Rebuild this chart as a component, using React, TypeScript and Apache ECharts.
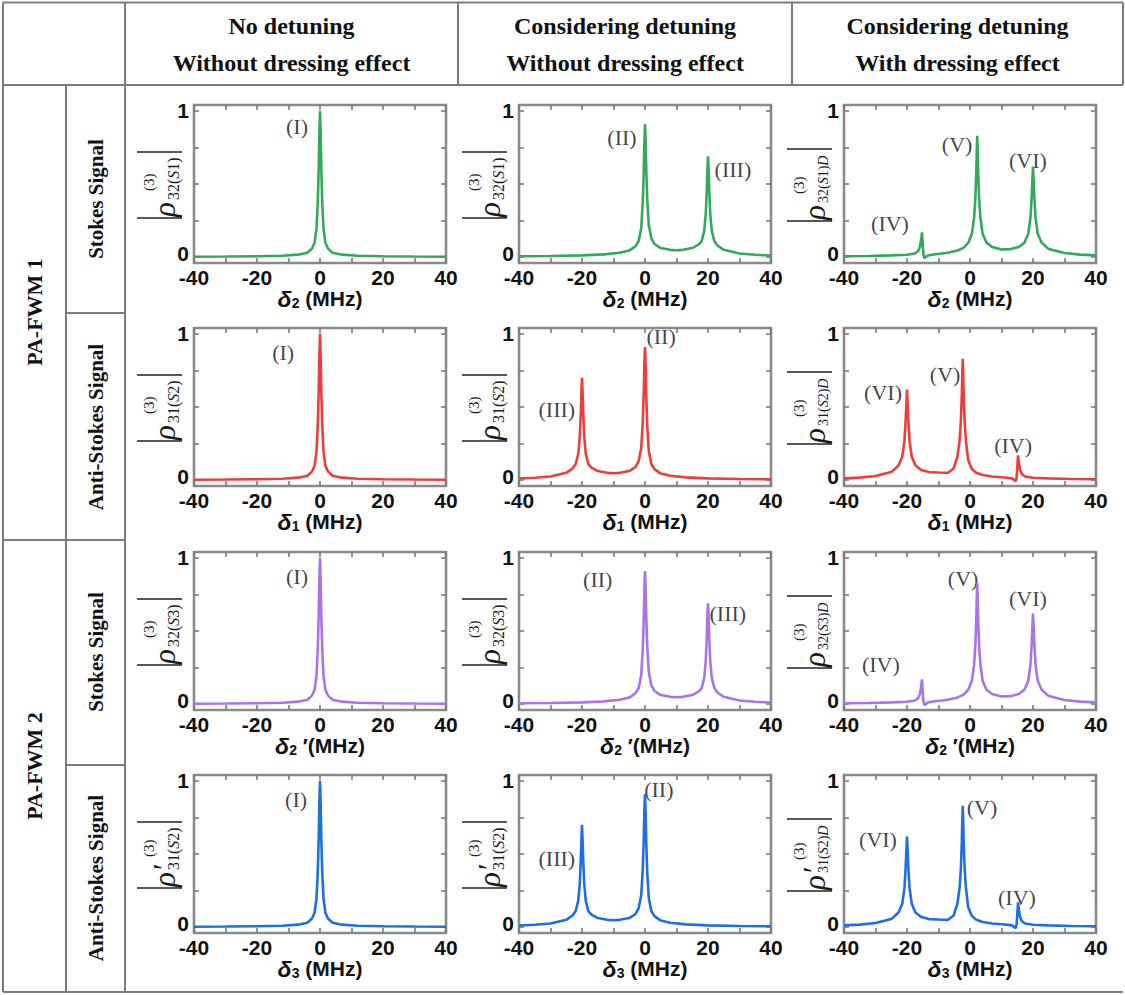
import React, { useEffect, useRef } from "react";
import * as echarts from "echarts";

// ---------- texts ----------
const colHeaders: string[][] = [
  ["No detuning", "Without dressing effect"],
  ["Considering detuning", "Without dressing effect"],
  ["Considering detuning", "With dressing effect"],
];
const groupLabels = ["PA-FWM 1", "PA-FWM 2"];
const signalLabels = ["Stokes Signal", "Anti-Stokes Signal", "Stokes Signal", "Anti-Stokes Signal"];

// x-axis titles per row: [symbol, subscript, suffix]
const xTitles: string[][] = [
  ["δ", "2", " (MHz)"],
  ["δ", "1", " (MHz)"],
  ["δ", "2", " ′(MHz)"],
  ["δ", "3", " (MHz)"],
];
// y-axis label subscripts per row: [indices, field letter, field number], prime flag
const yLabelSubs: string[][] = [
  ["32", "S", "1"],
  ["31", "S", "2"],
  ["32", "S", "3"],
  ["31", "S", "2"],
];
const yLabelPrime = [false, false, false, true];

// ---------- ticks ----------
const xTicks = [-40, -30, -20, -10, 0, 10, 20, 30, 40];
const xTickLabels = [-40, -20, 0, 20, 40];
const yTicks = [0, 0.25, 0.5, 0.75, 1];
const yTickLabels = [0, 1];

// ---------- curves [detuning (MHz), |rho|] ----------
const singlePeak: number[][] = [
  [-40, 0.003], [-30, 0.004], [-20, 0.006], [-12, 0.01], [-7, 0.017], [-4, 0.03], [-2.5, 0.06],
  [-1.7, 0.1], [-1.1, 0.2], [-0.7, 0.38], [-0.4, 0.62], [-0.2, 0.85], [0, 1], [0.2, 0.85],
  [0.4, 0.62], [0.7, 0.38], [1.1, 0.2], [1.7, 0.1], [2.5, 0.06], [4, 0.03], [7, 0.017],
  [12, 0.01], [20, 0.006], [30, 0.004], [40, 0.003],
];
const stokesDetuned: number[][] = [
  [-40, 0.006], [-30, 0.008], [-20, 0.012], [-13, 0.019], [-8, 0.03], [-5, 0.045], [-3, 0.075],
  [-2, 0.11], [-1.2, 0.2], [-0.7, 0.38], [-0.4, 0.58], [-0.2, 0.78], [0, 0.91], [0.2, 0.79],
  [0.4, 0.6], [0.7, 0.4], [1.2, 0.22], [2, 0.13], [3, 0.09], [5, 0.062], [8, 0.05], [10, 0.047],
  [12, 0.05], [15, 0.062], [17, 0.085], [18, 0.11], [18.8, 0.18], [19.3, 0.3], [19.6, 0.45],
  [19.8, 0.59], [20, 0.69], [20.2, 0.59], [20.4, 0.45], [20.7, 0.3], [21.2, 0.18], [22, 0.11],
  [23, 0.08], [25, 0.05], [30, 0.025], [35, 0.016], [40, 0.011],
];
const antiDetuned: number[][] = [
  [-40, 0.011], [-35, 0.016], [-30, 0.025], [-25, 0.05], [-23, 0.08], [-22, 0.11], [-21.2, 0.18],
  [-20.7, 0.3], [-20.4, 0.45], [-20.2, 0.59], [-20, 0.7], [-19.8, 0.59], [-19.6, 0.45],
  [-19.3, 0.3], [-18.8, 0.18], [-18, 0.11], [-17, 0.085], [-15, 0.062], [-12, 0.05],
  [-10, 0.047], [-8, 0.05], [-5, 0.062], [-3, 0.09], [-2, 0.13], [-1.2, 0.22], [-0.7, 0.4],
  [-0.4, 0.6], [-0.2, 0.79], [0, 0.91], [0.2, 0.78], [0.4, 0.58], [0.7, 0.38], [1.2, 0.2],
  [2, 0.11], [3, 0.075], [5, 0.045], [8, 0.03], [13, 0.019], [20, 0.012], [30, 0.008], [40, 0.006],
];
const stokesDressed: number[][] = [
  [-40, 0.006], [-32, 0.008], [-25, 0.012], [-20, 0.016], [-17.5, 0.025], [-16.5, 0.04],
  [-15.9, 0.07], [-15.5, 0.12], [-15.25, 0.17], [-15.05, 0.1], [-14.8, 0.02], [-14.5, -0.008],
  [-14.1, 0.0], [-13.3, 0.012], [-11, 0.02], [-7, 0.03], [-4, 0.045], [-2, 0.065], [-0.5, 0.1],
  [0.6, 0.16], [1.3, 0.27], [1.7, 0.4], [2, 0.58], [2.15, 0.72], [2.3, 0.83], [2.45, 0.72],
  [2.6, 0.58], [2.9, 0.4], [3.3, 0.27], [4, 0.16], [5.2, 0.1], [7, 0.07], [10, 0.052], [13, 0.055],
  [15.5, 0.07], [17.3, 0.1], [18.5, 0.16], [19.2, 0.27], [19.55, 0.4], [19.8, 0.52], [20, 0.62],
  [20.2, 0.52], [20.45, 0.4], [20.8, 0.27], [21.5, 0.16], [22.7, 0.1], [25, 0.055], [30, 0.028],
  [35, 0.017], [40, 0.012],
];
const antiDressed: number[][] = [
  [-40, 0.012], [-35, 0.017], [-30, 0.028], [-25, 0.055], [-22.7, 0.1], [-21.5, 0.16],
  [-20.8, 0.27], [-20.45, 0.4], [-20.2, 0.52], [-20, 0.62], [-19.8, 0.52], [-19.55, 0.4],
  [-19.2, 0.27], [-18.5, 0.16], [-17.3, 0.1], [-15.5, 0.07], [-13, 0.055], [-10, 0.052],
  [-7, 0.05], [-5.2, 0.08], [-4, 0.16], [-3.3, 0.27], [-2.9, 0.4], [-2.6, 0.58], [-2.45, 0.72],
  [-2.3, 0.83], [-2.15, 0.72], [-2, 0.58], [-1.7, 0.4], [-1.3, 0.27], [-0.6, 0.14], [0.5, 0.08],
  [2, 0.05], [4, 0.035], [7, 0.025], [11, 0.018], [13.3, 0.012], [14.1, 0.0], [14.5, -0.008],
  [14.8, 0.02], [15.05, 0.1], [15.25, 0.17], [15.5, 0.12], [15.9, 0.07], [16.5, 0.04],
  [17.5, 0.025], [20, 0.016], [25, 0.012], [32, 0.008], [40, 0.006],
];

const rowCurves: number[][][][] = [
  [singlePeak, stokesDetuned, stokesDressed],
  [singlePeak, antiDetuned, antiDressed],
  [singlePeak, stokesDetuned, stokesDressed],
  [singlePeak, antiDetuned, antiDressed],
];
const rowColors = ["#35a85c", "#ef3d3d", "#a874e6", "#1f6fe0"];

// peak labels: [text, x (MHz), y]
const peakLabels: (string | number)[][][][] = [
  [[["(I)", -7.3, 0.89]], [["(II)", -7.3, 0.82], ["(III)", 27.9, 0.6]], [["(IV)", -25.4, 0.23], ["(V)", -4.1, 0.77], ["(VI)", 18.4, 0.66]]],
  [[["(I)", -11.7, 0.87]], [["(III)", -28, 0.48], ["(II)", 5.1, 0.98]], [["(VI)", -27.6, 0.6], ["(V)", -7.9, 0.72], ["(IV)", 13.7, 0.24]]],
  [[["(I)", -7.3, 0.87]], [["(II)", -15, 0.85], ["(III)", 26.3, 0.62]], [["(IV)", -28.3, 0.27], ["(V)", -2.2, 0.86], ["(VI)", 18.4, 0.72]]],
  [[["(I)", -7.6, 0.87]], [["(III)", -28, 0.47], ["(II)", 4.4, 0.94]], [["(VI)", -29.2, 0.6], ["(V)", 3.8, 0.82], ["(IV)", 14.9, 0.2]]],
];

// ---------- layout / style ----------
const colLeft = [194, 519, 844];
const rowTop = [105, 328, 552, 775];
const PW = 252;
const PH = 158;
const FRAME = "#8a8a8a";
const RULE = "#7c7c7c";
const INK = "#111111";
const SANS = "Liberation Sans, Arial, sans-serif";
const SERIF = "Liberation Serif, Times New Roman, serif";

function yLabelGroup(cx: number, cy: number, row: number, dressed: boolean) {
  const [idx, letter, num] = yLabelSubs[row];
  const prime = yLabelPrime[row];
  const half = dressed ? 36 : 33;
  const subSize = dressed ? 14 : 16;
  let sub = `{n|${idx}(}{i|${letter}}{n|${num})}`;
  if (dressed) sub += "{i|D}";
  const txt = (extra: any) => ({ fill: "#1a1a1a", fontFamily: SERIF, ...extra });
  return {
    type: "group",
    x: cx,
    y: cy,
    rotation: Math.PI / 2,
    silent: true,
    children: [
      { type: "line", shape: { x1: -half, y1: -23, x2: -half, y2: 22 }, style: { stroke: "#222", lineWidth: 1.4 } },
      { type: "line", shape: { x1: half, y1: -23, x2: half, y2: 22 }, style: { stroke: "#222", lineWidth: 1.4 } },
      {
        type: "text", x: -half + 1, y: 4,
        style: txt({ text: prime ? "ρ′" : "ρ", fontSize: 31, fontStyle: "italic", textAlign: "left", align: "left", textVerticalAlign: "middle", verticalAlign: "middle" }),
      },
      {
        type: "text", x: (prime ? -2 : -6) - (half - 33), y: -11,
        style: txt({ text: "(3)", fontSize: 15, textAlign: "left", align: "left", textVerticalAlign: "middle", verticalAlign: "middle" }),
      },
      {
        type: "text", x: -15 - (half - 33), y: 13,
        style: txt({
          text: sub, fontSize: subSize, textAlign: "left", align: "left", textVerticalAlign: "middle", verticalAlign: "middle",
          rich: {
            n: { fontSize: subSize, fontFamily: SERIF, fill: "#1a1a1a", color: "#1a1a1a" },
            i: { fontSize: subSize, fontFamily: SERIF, fontStyle: "italic", fill: "#1a1a1a", color: "#1a1a1a" },
          },
        }),
      },
    ],
  };
}

function buildOption() {
  const grid: any[] = [];
  const xAxis: any[] = [];
  const yAxis: any[] = [];
  const series: any[] = [];
  const graphic: any[] = [];

  const tickStyle = { show: true, inside: true, length: 5, lineStyle: { color: "#7a7a7a", width: 1.6 } };
  const labelStyle = { fontFamily: SANS, fontWeight: "bold", fontSize: 21, color: INK, lineHeight: 17 };
  const yTok = { fontFamily: SANS, fontWeight: "bold", fontSize: 21, color: INK };
  const noLine = { show: false, onZero: false };

  for (let r = 0; r < 4; r++) {
    for (let c = 0; c < 3; c++) {
      const i = r * 3 + c;
      grid.push({
        left: colLeft[c], top: rowTop[r], width: PW, height: PH,
        show: true, borderColor: FRAME, borderWidth: 2.6, backgroundColor: "transparent",
        outerBoundsMode: "none",
      });
      const [sym, sub, suffix] = xTitles[r];
      xAxis.push({
        type: "value", gridIndex: i, position: "bottom", min: -40, max: 40,
        axisLine: noLine, splitLine: { show: false },
        axisTick: { ...tickStyle, customValues: xTicks },
        axisLabel: { ...labelStyle, customValues: xTickLabels, margin: 6 },
        name: `{d|${sym}}{s|${sub}}{t|${suffix}}`,
        nameLocation: "middle", nameGap: 27, nameMoveOverlap: false,
        nameTextStyle: {
          rich: {
            d: { fontFamily: SANS, fontWeight: "bold", fontStyle: "italic", fontSize: 23, lineHeight: 17, color: INK },
            s: { fontFamily: SANS, fontWeight: "bold", fontSize: 14, lineHeight: 10, color: INK, padding: [8, 0, 0, 0] },
            t: { fontFamily: SANS, fontWeight: "bold", fontSize: 21, lineHeight: 17, color: INK },
          },
        },
      });
      xAxis.push({
        type: "value", gridIndex: i, position: "top", min: -40, max: 40,
        axisLine: noLine, splitLine: { show: false }, axisLabel: { show: false },
        axisTick: { ...tickStyle, customValues: xTicks },
      });
      yAxis.push({
        type: "value", gridIndex: i, position: "left", min: -0.04, max: 1.04,
        axisLine: noLine, splitLine: { show: false },
        axisTick: { ...tickStyle, customValues: yTicks },
        axisLabel: {
          ...labelStyle, customValues: yTickLabels, margin: 5,
          formatter: (v: number) => (v === 0 ? "{z|0}" : "{o|" + v + "}"),
          rich: {
            z: { ...yTok, padding: [0, 0, 8, 0] },
            o: { ...yTok, padding: [0, 0, 0, 0] },
          },
        },
      });
      yAxis.push({
        type: "value", gridIndex: i, position: "right", min: -0.04, max: 1.04,
        axisLine: noLine, splitLine: { show: false }, axisLabel: { show: false },
        axisTick: { ...tickStyle, customValues: yTicks },
      });
      series.push({
        type: "line", xAxisIndex: 2 * i, yAxisIndex: 2 * i, data: rowCurves[r][c],
        symbol: "none", showSymbol: false, smooth: false, silent: true,
        lineStyle: { color: rowColors[r], width: 2.6 },
      });
      series.push({
        type: "scatter", xAxisIndex: 2 * i, yAxisIndex: 2 * i, silent: true,
        data: peakLabels[r][c].map((p) => ({ name: p[0], value: [p[1], p[2]] })),
        symbolSize: 1, itemStyle: { color: "rgba(0,0,0,0)" },
        label: { show: true, position: "inside", formatter: "{b}", fontFamily: SERIF, fontSize: 22, color: INK },
      });
      graphic.push(yLabelGroup(colLeft[c] - 34, rowTop[r] + 80, r, c === 2));
    }
  }

  // table rules
  const rules: number[][] = [
    [3, 2.5, 1123, 2.5], [3, 85, 1123, 85], [3, 992, 1123, 992],
    [3, 2.5, 3, 992], [125, 2.5, 125, 992], [66, 85, 66, 992],
    [458, 2.5, 458, 85], [792, 2.5, 792, 85], [1123, 2.5, 1123, 85],
    [66, 313, 125, 313], [3, 540, 125, 540], [66, 765, 125, 765],
  ];
  rules.forEach(([x1, y1, x2, y2]) =>
    graphic.push({ type: "line", silent: true, shape: { x1, y1, x2, y2 }, style: { stroke: RULE, lineWidth: 2 } })
  );

  const headStyle = (text: string, size: number) => ({
    text, fill: INK, fontFamily: SERIF, fontWeight: "bold", fontSize: size,
    textAlign: "center", align: "center", textVerticalAlign: "middle", verticalAlign: "middle",
  });
  const colCenters = [291.5, 625, 957.5];
  colHeaders.forEach((lines, c) => {
    graphic.push({ type: "text", silent: true, x: colCenters[c], y: 26, style: headStyle(lines[0], 24) });
    graphic.push({ type: "text", silent: true, x: colCenters[c], y: 63, style: headStyle(lines[1], 24) });
  });
  const groupCenters = [312, 766];
  groupLabels.forEach((t, g) => {
    graphic.push({ type: "text", silent: true, x: 34, y: groupCenters[g], rotation: Math.PI / 2, style: headStyle(t, 22) });
  });
  const sigCenters = [199, 427, 652, 878];
  signalLabels.forEach((t, k) => {
    graphic.push({ type: "text", silent: true, x: 96, y: sigCenters[k], rotation: Math.PI / 2, style: headStyle(t, 21) });
  });

  return {
    animation: false,
    backgroundColor: "#ffffff",
    grid, xAxis, yAxis, series, graphic,
  };
}

export default function App() {
  const ref = useRef<HTMLDivElement>(null);
  useEffect(() => {
    if (!ref.current) return;
    const chart = echarts.init(ref.current, undefined, { renderer: "svg" });
    chart.setOption(buildOption() as any);
    return () => chart.dispose();
  }, []);
  return (
    <div
      ref={ref}
      style={{ position: "absolute", left: 0, top: 0, width: 1125, height: 995, background: "#fff" }}
    />
  );
}
